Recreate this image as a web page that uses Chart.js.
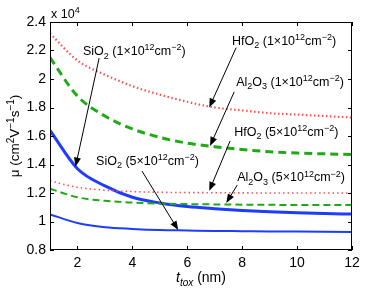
<!DOCTYPE html>
<html>
<head>
<meta charset="utf-8">
<script src="https://cdn.jsdelivr.net/npm/chart.js@4.4.1/dist/chart.umd.min.js"></script>
<style>
  html, body { margin: 0; padding: 0; background: #fff; }
</style>
</head>
<body>
<canvas id="mobilityChart" width="388" height="292"></canvas>
<script>
// oxide thickness t_tox (nm)
const tox = [1, 2, 3, 4, 5, 6, 7, 8, 9, 10, 11, 12];

// mobility in units of 1e4 cm^2/Vs
const sio2Low   = [1.64, 1.37, 1.25, 1.17, 1.13, 1.105, 1.09, 1.078, 1.068, 1.061, 1.056, 1.052];
const sio2High  = [1.05, 0.99, 0.96, 0.948, 0.94, 0.937, 0.934, 0.932, 0.93, 0.929, 0.928, 0.927];
const hfo2Low   = [2.32, 2.13, 2.03, 1.95, 1.89, 1.84, 1.80, 1.78, 1.76, 1.75, 1.74, 1.73];
const hfo2High  = [1.285, 1.24, 1.22, 1.21, 1.205, 1.203, 1.202, 1.201, 1.2, 1.2, 1.2, 1.2];
const al2o3Low  = [2.15, 1.88, 1.74, 1.65, 1.59, 1.55, 1.525, 1.505, 1.49, 1.48, 1.475, 1.47];
const al2o3High = [1.23, 1.17, 1.145, 1.133, 1.126, 1.122, 1.12, 1.118, 1.117, 1.116, 1.116, 1.115];

const xTicks = [2, 4, 6, 8, 10, 12];
const yTicks = [0.8, 1, 1.2, 1.4, 1.6, 1.8, 2, 2.2, 2.4];

const BLUE = 'rgb(30,60,255)';
const GREEN = 'rgb(30,170,20)';
const RED = 'rgb(255,80,80)';

function series(arr) {
    return tox.map((t, i) => ({ x: t, y: arr[i] }));
}

// callout labels: text at (lx, ly), arrow from (ax, ay) to (tx, ty), all in data units
function dens(n) {
    return [[' (' + n + '\u00d710', 0], ['12', 1], ['cm', 0], ['\u22122', 1], [')', 0]];
}
const callouts = [
    { parts: [['SiO', 0], ['2', -1]].concat(dens(1)), lx: 2.2, ly: 2.196, ax: 2.79, ay: 2.147, tx: 1.93, ty: 1.385 },
    { parts: [['HfO', 0], ['2', -1]].concat(dens(1)), lx: 7.63, ly: 2.27, ax: 7.78, ay: 2.22, tx: 6.8, ty: 1.80 },
    { parts: [['Al', 0], ['2', -1], ['O', 0], ['3', -1]].concat(dens(1)), lx: 7.78, ly: 1.98, ax: 7.71, ay: 1.91, tx: 6.83, ty: 1.53 },
    { parts: [['HfO', 0], ['2', -1]].concat(dens(5)), lx: 7.71, ly: 1.63, ax: 7.56, ay: 1.565, tx: 6.8, ty: 1.215 },
    { parts: [['Al', 0], ['2', -1], ['O', 0], ['3', -1]].concat(dens(5)), lx: 7.82, ly: 1.31, ax: 7.82, ay: 1.256, tx: 7.42, ty: 1.13 },
    { parts: [['SiO', 0], ['2', -1]].concat(dens(5)), lx: 2.68, ly: 1.425, ax: 4.35, ay: 1.354, tx: 5.67, ty: 0.94 }
];

const FONT = 'Liberation Sans, Arial, Helvetica, sans-serif';

// draw text runs: 0 normal, 1 superscript, -1 subscript
function drawRich(ctx, parts, x, y, size, italic) {
    let cx = x;
    parts.forEach(([txt, mode]) => {
        const s = mode === 0 ? size : Math.round(size * 0.74);
        const dy = mode === 1 ? -size * 0.38 : (mode === -1 ? size * 0.28 : 0);
        ctx.font = (italic && mode !== 0 ? 'italic ' : '') + s + 'px ' + FONT;
        ctx.fillText(txt, cx, y + dy);
        cx += ctx.measureText(txt).width;
    });
    return cx - x;
}
function richWidth(ctx, parts, size) {
    let w = 0;
    parts.forEach(([txt, mode]) => {
        const s = mode === 0 ? size : Math.round(size * 0.74);
        ctx.font = s + 'px ' + FONT;
        w += ctx.measureText(txt).width;
    });
    return w;
}

const decorPlugin = {
    id: 'decor',
    afterDraw(chart) {
        const ctx = chart.ctx;
        const a = chart.chartArea;
        const xs = chart.scales.x, ys = chart.scales.y;
        ctx.save();
        // box
        ctx.strokeStyle = '#000';
        ctx.lineWidth = 1;
        ctx.strokeRect(a.left + 0.5, a.top + 0.5, a.right - a.left - 1, a.bottom - a.top - 1);
        // inward ticks
        ctx.beginPath();
        xTicks.forEach(v => {
            const p = Math.round(xs.getPixelForValue(v)) + 0.5;
            ctx.moveTo(p, a.bottom); ctx.lineTo(p, a.bottom - 4);
            ctx.moveTo(p, a.top); ctx.lineTo(p, a.top + 4);
        });
        yTicks.forEach(v => {
            const p = Math.round(ys.getPixelForValue(v)) + 0.5;
            ctx.moveTo(a.left, p); ctx.lineTo(a.left + 4, p);
            ctx.moveTo(a.right, p); ctx.lineTo(a.right - 4, p);
        });
        ctx.stroke();

        ctx.fillStyle = '#000';
        ctx.textBaseline = 'alphabetic';
        ctx.textAlign = 'left';

        // callouts
        callouts.forEach(c => {
            drawRich(ctx, c.parts, xs.getPixelForValue(c.lx), ys.getPixelForValue(c.ly) + 4, 12.5);
            const x0 = xs.getPixelForValue(c.ax), y0 = ys.getPixelForValue(c.ay);
            const x1 = xs.getPixelForValue(c.tx), y1 = ys.getPixelForValue(c.ty);
            const ang = Math.atan2(y1 - y0, x1 - x0);
            ctx.beginPath();
            ctx.moveTo(x0, y0);
            ctx.lineTo(x1 - 6 * Math.cos(ang), y1 - 6 * Math.sin(ang));
            ctx.stroke();
            ctx.beginPath();
            ctx.moveTo(x1, y1);
            ctx.lineTo(x1 - 9 * Math.cos(ang) + 3.5 * Math.sin(ang), y1 - 9 * Math.sin(ang) - 3.5 * Math.cos(ang));
            ctx.lineTo(x1 - 9 * Math.cos(ang) - 3.5 * Math.sin(ang), y1 - 9 * Math.sin(ang) + 3.5 * Math.cos(ang));
            ctx.closePath();
            ctx.fill();
        });

        // multiplier
        drawRich(ctx, [['x 10', 0], ['4', 1]], a.left + 1, a.top - 4, 12.5);

        // x title
        const xt = [['t', 0], ['tox', -1], [' (nm)', 0]];
        const xw = richWidth(ctx, xt, 14);
        const cx = (a.left + a.right) / 2 - xw / 2;
        ctx.font = 'italic 14px ' + FONT;
        ctx.fillText('t', cx, 282);
        let off = ctx.measureText('t').width;
        ctx.font = 'italic 10px ' + FONT;
        ctx.fillText('tox', cx + off, 286);
        off += ctx.measureText('tox').width;
        ctx.font = '14px ' + FONT;
        ctx.fillText(' (nm)', cx + off, 282);

        // y title
        const yt = [['\u03bc (cm', 0], ['2', 1], ['V', 0], ['\u22121', 1], ['s', 0], ['\u22121', 1], [')', 0]];
        const yw = richWidth(ctx, yt, 13.5);
        ctx.translate(19, (a.top + a.bottom) / 2);
        ctx.rotate(-Math.PI / 2);
        drawRich(ctx, yt, -yw / 2, 0, 13.5);
        ctx.restore();
    }
};

const ctx = document.getElementById('mobilityChart').getContext('2d');
new Chart(ctx, {
    type: 'line',
    data: {
        datasets: [
            { data: series(hfo2Low), borderColor: RED, borderWidth: 2.2, borderDash: [1.5, 2.5] },
            { data: series(al2o3Low), borderColor: GREEN, borderWidth: 3, borderDash: [8, 5] },
            { data: series(hfo2High), borderColor: RED, borderWidth: 1.6, borderDash: [1.5, 3] },
            { data: series(al2o3High), borderColor: GREEN, borderWidth: 2, borderDash: [7, 4] },
            { data: series(sio2Low), borderColor: BLUE, borderWidth: 3 },
            { data: series(sio2High), borderColor: BLUE, borderWidth: 2 }
        ]
    },
    options: {
        responsive: false,
        animation: false,
        layout: { padding: { top: 22, right: 36, left: 0, bottom: 0 } },
        elements: {
            point: { radius: 0 },
            line: { cubicInterpolationMode: 'monotone', fill: false }
        },
        plugins: {
            legend: { display: false },
            tooltip: { enabled: false }
        },
        scales: {
            x: {
                type: 'linear',
                min: 1,
                max: 12,
                afterBuildTicks: s => { s.ticks = xTicks.map(v => ({ value: v })); },
                afterFit: s => { s.height = 42; },
                grid: { display: false, drawTicks: false },
                border: { display: false },
                ticks: { padding: 5, color: '#000', maxRotation: 0, autoSkip: false, font: { family: FONT, size: 14 } }
            },
            y: {
                min: 0.8,
                max: 2.4,
                afterBuildTicks: s => { s.ticks = yTicks.map(v => ({ value: v })); },
                afterFit: s => { s.width = 50; },
                grid: { display: false, drawTicks: false },
                border: { display: false },
                ticks: {
                    padding: 4, color: '#000', autoSkip: false, font: { family: FONT, size: 14 },
                    callback: v => String(Math.round(v * 10) / 10)
                }
            }
        }
    },
    plugins: [decorPlugin]
});
</script>
</body>
</html>
